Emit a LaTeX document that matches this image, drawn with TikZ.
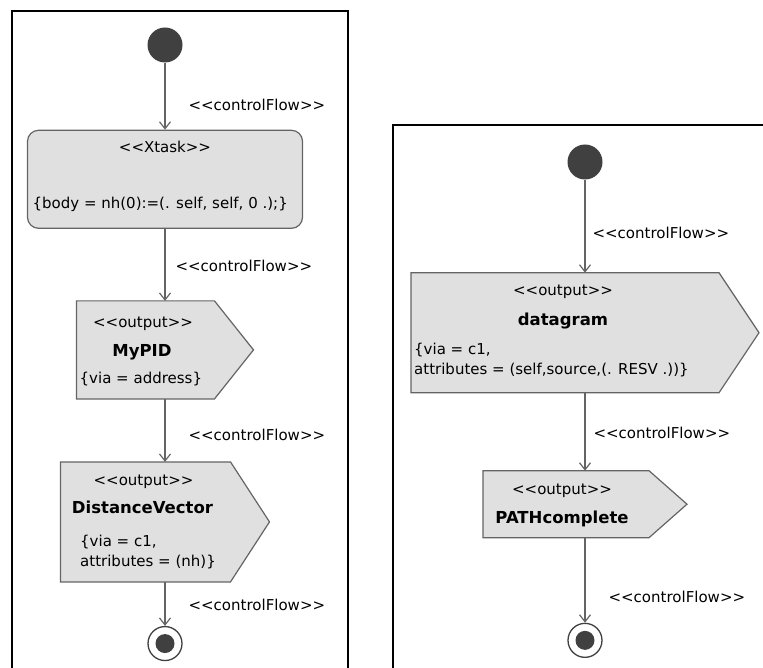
\documentclass[tikz,border=0pt]{standalone}
\usepackage{fontspec}
\setmainfont{DejaVu Sans}[Ligatures=TeXOff]
\usetikzlibrary{arrows.meta,positioning,calc}

\definecolor{boxfill}{RGB}{224,224,224}
\definecolor{lineclr}{RGB}{100,100,100}
\definecolor{dotclr}{RGB}{64,64,64}

\begin{document}
\begin{tikzpicture}[
  x=1pt, y=-1pt,
  txt/.style={inner sep=0pt, font=\fontsize{15}{18}\selectfont, text height=11pt, text depth=3pt},
  txtb/.style={inner sep=0pt, font=\fontsize{16.5}{20}\selectfont\bfseries, text height=12pt, text depth=3pt},
  attrtext/.style={inner sep=0pt, font=\fontsize{15}{20}\selectfont, align=left},
  initnode/.style={circle, fill=dotclr, minimum size=35pt, inner sep=0pt},
  finalnode/.style={circle, draw=dotclr, line width=1.3pt, fill=white, minimum size=34pt, inner sep=0pt,
    path picture={\fill[dotclr] (path picture bounding box.center) circle (9.5pt);}},
  taskbox/.style={draw=lineclr, fill=boxfill, line width=1.2pt, rounded corners=11pt, minimum width=275pt, minimum height=98pt},
  outnode/.style={inner sep=0pt, outer sep=0pt},
  outshape/.style={draw=lineclr, fill=boxfill, line width=1.2pt},
  flow/.style={draw=lineclr, line width=1.2pt, -{Straight Barb[length=7pt, width=11pt]}},
  flowlbl/.style={txt, anchor=west},
  frame/.style={draw=black, line width=2pt}
]
\useasboundingbox (0,0) rectangle (763,668);

% left activity
\node[initnode] (start1) at (165,45) {};
\node[taskbox, below=67pt of start1] (xtask) {};
\node[outnode, minimum width=177pt, minimum height=98pt, below=72pt of xtask] (mypid) {};
\node[outnode, minimum width=209pt, minimum height=120pt, below=63pt of mypid] (distvec) {};
\node[finalnode, below=44pt of distvec] (end1) {};

% right activity
\node[initnode] (start2) at (585,162) {};
\node[outnode, minimum width=348pt, minimum height=120pt, below=93pt of start2] (datagram) {};
\node[outnode, minimum width=204pt, minimum height=67pt, below=78pt of datagram] (pathdone) {};
\node[finalnode, below=85pt of pathdone] (end2) {};

% output signal shapes
\foreach \n/\d in {mypid/39, distvec/39, datagram/40, pathdone/38}
  \filldraw[outshape] (\n.north west) -- ([xshift=-\d pt]\n.north east) -- (\n.east)
    -- ([xshift=-\d pt]\n.south east) -- (\n.south west) -- cycle;

% texts
\node[txt, below=12pt of xtask.north] (xtask-st) {<<Xtask>>};
\node[txt, below right=68pt and 5.5pt of xtask.north west] (xtask-body) {\{body = nh(0):=(. self, self, 0 .);\}};

\node[txt, below=15pt of mypid.north, xshift=-22pt] (mypid-st) {<<output>>};
\node[txtb, below=43pt of mypid.north, xshift=-23pt] (mypid-name) {MyPID};
\node[attrtext, below right=71pt and 3pt of mypid.north west] (mypid-attr) {\{via = address\}};

\node[txt, below=12pt of distvec.north, xshift=-21.5pt] (distvec-st) {<<output>>};
\node[txtb, below=39pt of distvec.north, xshift=-22.5pt] (distvec-name) {DistanceVector};
\node[attrtext, below right=73pt and 19.5pt of distvec.north west] (distvec-attr) {\{via = c1,\\ attributes = (nh)\}};

\node[txt, below=12pt of datagram.north, xshift=-22pt] (datagram-st) {<<output>>};
\node[txtb, below=41pt of datagram.north, xshift=-22pt] (datagram-name) {datagram};
\node[attrtext, below right=70pt and 3pt of datagram.north west] (datagram-attr) {\{via = c1,\\attributes = (self,source,(. RESV .))\}};

\node[txt, below=13pt of pathdone.north, xshift=-23pt] (pathdone-st) {<<output>>};
\node[txtb, below=41pt of pathdone.north, xshift=-23pt] (pathdone-name) {PATHcomplete};

% control flows
\foreach \a/\b/\p/\s in {start1/xtask/0.66/23, xtask/mypid/0.53/10, mypid/distvec/0.6/23, distvec/end1/0.55/23,
    start2/datagram/0.59/7, datagram/pathdone/0.54/8, pathdone/end2/0.72/23}
  \draw[flow] (\a) -- node[flowlbl, pos=\p, xshift=\s pt] {<<controlFlow>>} (\b);

% frames
\draw[frame] (12,680) -- (12,11) -- (348,11) -- (348,680);
\draw[frame] (393,680) -- (393,125) -- (775,125);
\end{tikzpicture}
\end{document}
